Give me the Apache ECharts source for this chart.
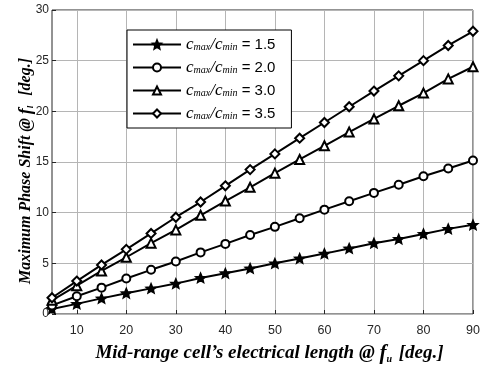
<!DOCTYPE html>
<html>
<head>
<meta charset="utf-8">
<script src="https://cdn.jsdelivr.net/npm/echarts@6/dist/echarts.min.js"></script>
<style>
  html, body { margin: 0; padding: 0; background: #fff; }
  #chart { width: 483px; height: 369px; }
</style>
</head>
<body>
<div id="chart"></div>
<script>
// Mid-range cell electrical length (deg.)
const lengths = [5, 10, 15, 20, 25, 30, 35, 40, 45, 50, 55, 60, 65, 70, 75, 80, 85, 90];

// Maximum phase shift (deg.) for each capacitance ratio
const ratio15 = [0.5, 1.0, 1.54, 2.05, 2.53, 3.0, 3.56, 4.02, 4.5, 5.0, 5.48, 5.96, 6.47, 6.99, 7.4, 7.9, 8.4, 8.8];
const ratio20 = [0.85, 1.75, 2.6, 3.5, 4.36, 5.18, 6.08, 6.92, 7.8, 8.6, 9.45, 10.3, 11.12, 11.95, 12.75, 13.6, 14.36, 15.15];
const ratio30 = [1.35, 2.8, 4.25, 5.6, 6.99, 8.3, 9.74, 11.15, 12.5, 13.9, 15.25, 16.6, 17.95, 19.25, 20.55, 21.8, 23.2, 24.4];
const ratio35 = [1.6, 3.25, 4.84, 6.38, 7.95, 9.55, 11.05, 12.65, 14.25, 15.8, 17.35, 18.9, 20.45, 22.0, 23.5, 25.0, 26.5, 27.9];

const ratioLabels = ['1.5', '2.0', '3.0', '3.5'];

// Tick values
const xTicks = [10, 20, 30, 40, 50, 60, 70, 80, 90];

const STAR = 'path://M0,-100 L26.4,-36.4 L95.1,-30.9 L42.8,13.9 L58.8,80.9 L0,45 L-58.8,80.9 L-42.8,13.9 L-95.1,-30.9 L-26.4,-36.4 Z';
const markers = [STAR, 'emptyCircle', 'emptyTriangle', 'emptyDiamond'];
const markerSizes = [9, 8, 9, 9];
const valuesList = [ratio15, ratio20, ratio30, ratio35];

const serif = '"Liberation Serif", "DejaVu Serif", serif';
const sans = '"Liberation Sans", Arial, sans-serif';

const series = valuesList.map((vals, i) => ({
  name: ratioLabels[i],
  type: 'line',
  data: lengths.map((x, k) => [x, vals[k]]),
  symbol: markers[i],
  symbolSize: markerSizes[i],
  symbolKeepAspect: true,
  showAllSymbol: true,
  clip: false,
  z: 3 + i,
  color: '#000',
  lineStyle: { color: '#000', width: 2 },
  itemStyle: {
    color: '#000',
    borderColor: '#000',
    borderWidth: 1.8
  },
  emphasis: { disabled: true }
}));

const chart = echarts.init(document.getElementById('chart'), null, { renderer: 'canvas' });
chart.setOption({
  animation: false,
  backgroundColor: '#fff',
  grid: {
    left: 52, right: 10, top: 10, bottom: 47,
    show: true, borderColor: '#262626', borderWidth: 1,
    containLabel: false
  },
  legend: {
    orient: 'vertical',
    left: 127, top: 30,
    padding: [6, 16, 6, 5],
    itemWidth: 48, itemHeight: 10, itemGap: 6,
    backgroundColor: '#fff',
    borderColor: '#000', borderWidth: 1,
    borderRadius: 0,
    data: ratioLabels,
    formatter: name => '{c|c}{s|max}{c|/c}{s|min}{t| = ' + name + '}',
    textStyle: {
      rich: {
        c: { fontFamily: serif, fontStyle: 'italic', fontSize: 17, color: '#000', lineHeight: 15 },
        s: { fontFamily: serif, fontStyle: 'italic', fontSize: 10, color: '#000', lineHeight: 15, verticalAlign: 'bottom', padding: [5, 0, 0, 0] },
        t: { fontFamily: sans, fontSize: 15, color: '#000', lineHeight: 15 }
      }
    }
  },
  xAxis: {
    type: 'value',
    min: 5, max: 90,
    name: '{b|Mid-range cell\u2019s electrical length @ }{f|f}{sub|u}{b| [deg.]}',
    nameLocation: 'middle',
    nameGap: 29,
    nameMoveOverlap: false,
    nameTextStyle: {
      padding: [0, 0, 0, 14],
      rich: {
        b: { fontFamily: serif, fontStyle: 'italic', fontWeight: 'bold', fontSize: 19, color: '#000' },
        f: { fontFamily: serif, fontStyle: 'italic', fontWeight: 'bold', fontSize: 21, color: '#000' },
        sub: { fontFamily: serif, fontStyle: 'italic', fontWeight: 'bold', fontSize: 10, color: '#000', verticalAlign: 'bottom', padding: [8, 2, 0, 0] }
      }
    },
    axisLine: { show: false },
    axisTick: { show: true, inside: true, length: 4, lineStyle: { color: '#262626' }, customValues: xTicks },
    axisLabel: { customValues: xTicks, fontFamily: sans, fontSize: 12.5, color: '#262626', margin: 10 },
    splitLine: { show: true, lineStyle: { color: '#b5b5b5', width: 1 } }
  },
  yAxis: {
    type: 'value',
    min: 0, max: 30, interval: 5,
    name: '{b|Maximum Phase Shift @ }{f|f}{sub|l}{b|  [deg.]}',
    nameLocation: 'middle',
    nameRotate: 90,
    nameGap: 17,
    nameMoveOverlap: false,
    nameTextStyle: {
      padding: [0, 18, 0, 0],
      rich: {
        b: { fontFamily: serif, fontStyle: 'italic', fontWeight: 'bold', fontSize: 16, color: '#000' },
        f: { fontFamily: serif, fontStyle: 'italic', fontWeight: 'bold', fontSize: 18, color: '#000' },
        sub: { fontFamily: serif, fontStyle: 'italic', fontWeight: 'bold', fontSize: 9, color: '#000', verticalAlign: 'bottom', padding: [7, 2, 0, 0] }
      }
    },
    axisLine: { show: false },
    axisTick: { show: true, inside: true, length: 4, lineStyle: { color: '#262626' } },
    axisLabel: { fontFamily: sans, fontSize: 12, color: '#262626', margin: 3 },
    splitLine: { show: true, lineStyle: { color: '#b5b5b5', width: 1 } }
  },
  series: series
});
</script>
</body>
</html>
